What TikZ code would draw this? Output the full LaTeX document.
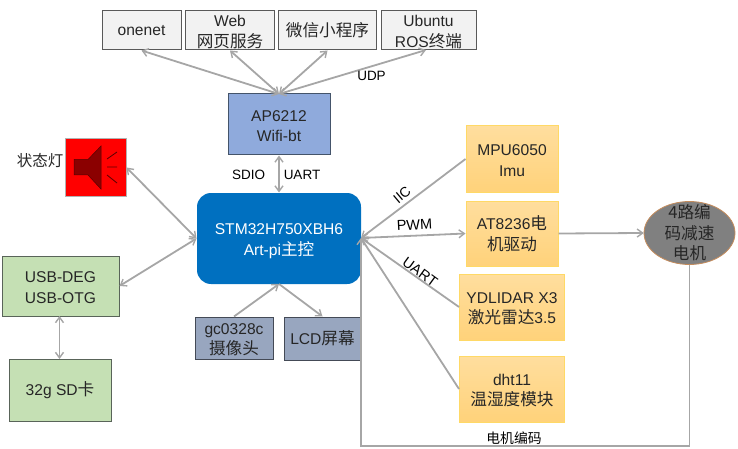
\documentclass[tikz,border=0pt]{standalone}
\usepackage{fontspec}
\setmainfont{Liberation Sans}
\newfontfamily\cjk{Noto Sans CJK SC}[Scale=1.065]
\newfontfamily\cjkplain{Noto Sans CJK SC}
\newcommand{\dn}[1]{\rule{0pt}{#1pt}}
\usetikzlibrary{arrows.meta}
\definecolor{linegray}{HTML}{A6A6A6}
\definecolor{txt}{HTML}{262626}
\definecolor{wififill}{HTML}{8FAADC}
\definecolor{wifiline}{HTML}{44546A}
\definecolor{camfill}{HTML}{98A6BF}
\definecolor{camline}{HTML}{444A56}
\definecolor{storefill}{HTML}{C5E0B4}
\definecolor{storeline}{HTML}{596459}
\definecolor{sensline}{HTML}{FFD966}
\definecolor{senstop}{HTML}{FFDE9E}
\definecolor{sensbot}{HTML}{FFD27A}
\definecolor{mcufill}{HTML}{0070C0}
\definecolor{motline}{HTML}{C58C5C}
\definecolor{darkred}{HTML}{8B0000}
\definecolor{darkerred}{HTML}{5A0000}
\tikzset{
  x=1pt,y=-1pt,
  base/.style={draw,line width=1pt,inner sep=0pt,align=center,
    font=\fontsize{15.6}{20.5}\selectfont,text=txt},
  cloud box/.style={base,fill=black!5,draw=black!65},
  wifi box/.style={base,fill=wififill,draw=wifiline},
  cam box/.style={base,fill=camfill,draw=camline},
  store box/.style={base,fill=storefill,draw=storeline},
  sensor box/.style={base,draw=sensline,top color=senstop,bottom color=sensbot},
  mcu box/.style={base,rounded corners=14pt,draw=none,fill=mcufill,text=white},
  link/.style={draw=linegray,line width=1.8pt},
  tip/.style={{Straight Barb[length=5.5pt,width=8pt,line width=1.4pt]}-{Straight Barb[length=5.5pt,width=8pt,line width=1.4pt]}},
  endtip/.style={-{Straight Barb[length=5.5pt,width=8pt,line width=1.4pt]}},
  starttip/.style={{Straight Barb[length=5.5pt,width=8pt,line width=1.4pt]}-},
  lab/.style={inner sep=0pt,font=\fontsize{13.5}{15}\selectfont,text=black},
}
\begin{document}
\begin{tikzpicture}
\useasboundingbox (0,0) rectangle (738,449);
\node[cloud box,minimum width=79pt,minimum height=39pt] (one) at (141.5,30.5) {onenet};
\node[cloud box,minimum width=88.5pt,minimum height=39pt] (web) at (230,30.5) {\dn{14}Web\\{\cjk 网页服务}};
\node[cloud box,minimum width=98pt,minimum height=39pt] (wx) at (327.5,30.5) {{\cjk 微信小程序}};
\node[cloud box,minimum width=95pt,minimum height=39pt] (ub) at (428.5,30.5) {\dn{14}Ubuntu\\ROS{\cjk 终端}};
\node[wifi box,minimum width=102pt,minimum height=61pt] (ap) at (279,124.5) {\dn{14}AP6212\\Wifi-bt};
\node[base,fill=red,draw=black!30,minimum width=61pt,minimum height=57pt] (lamp) at (95.5,167.5) {};
\node[mcu box,minimum width=164pt,minimum height=91pt] (mcu) at (279,238.5) {\dn{16}STM32H750XBH6\\Art-pi{\cjk 主控}};
\node[store box,minimum width=117pt,minimum height=60pt] (usb) at (60.5,286) {\dn{14}USB-DEG\\USB-OTG};
\node[store box,minimum width=102pt,minimum height=62pt] (sd) at (60,390) {32g SD{\cjk 卡}};
\node[cam box,minimum width=78pt,minimum height=42pt] (cam) at (234,338) {\dn{14}gc0328c\\{\cjk 摄像头}};
\node[cam box,minimum width=77pt,minimum height=43pt] (lcd) at (322.5,338.5) {LCD{\cjk 屏幕}};
\node[sensor box,minimum width=92pt,minimum height=66pt] (mpu) at (512,159) {\dn{14}MPU6050\\Imu};
\node[sensor box,minimum width=92pt,minimum height=65pt] (at) at (512,233.5) {AT8236{\cjk 电}\\{\cjk 机驱动}};
\node[sensor box,minimum width=105pt,minimum height=66pt] (yd) at (512,307) {\dn{14}YDLIDAR X3\\{\cjk 激光雷达}3.5};
\node[sensor box,minimum width=105pt,minimum height=66pt] (dht) at (512,389) {\dn{14}dht11\\{\cjk 温湿度模块}};
\fill[black!50,draw=motline,line width=0.8pt] (689.5,233) ellipse [x radius=45.5,y radius=31.5];
\node[inner sep=0pt,minimum width=91pt,minimum height=63pt,align=center,font=\fontsize{15.6}{20.5}\selectfont,text=txt] (mot) at (689.5,233) {{\cjk 4路编}\\{\cjk 码减速}\\{\cjk 电机}};
% speaker
\fill[darkred,draw=darkerred,line width=0.5pt] (74,159.5) -- (88,159.5) -- (101,146) -- (101,189) -- (88,175) -- (74,175) -- cycle;
\draw[darkerred,line width=0.8pt] (107,159) -- (117,152) (107,167) -- (117,167) (107,175) -- (117,183);
% connectors
\coordinate (apin) at (279,94);
\coordinate (ubs) at (426,50);
\draw[link,tip] (apin) -- (one.south);
\draw[link,tip] (apin) -- (web.south);
\draw[link,tip] (apin) -- (wx.south);
\draw[link,tip] (apin) -- (ubs);
\draw[link,tip,line width=1.4pt] (ap.south) -- (mcu.north);
\draw[link,tip] (mcu.west) -- (lamp.east);
\draw[link,tip] (mcu.west) -- (usb.east);
\coordinate (usbs) at (59.5,316);
\coordinate (sdn) at (59.5,359);
\draw[link,tip,line width=1.4pt] (usbs) -- (sdn);
\coordinate (msouth) at (279,284);
\draw[link,endtip] (cam.north) -- (msouth);
\draw[link,endtip] (msouth) -- (lcd.north);
\coordinate (meast) at (361,238);
\draw[link,starttip] (meast) -- (mpu.west);
\draw[link,tip] (meast) -- (at.west);
\draw[link,starttip] (meast) -- (yd.west);
\draw[link,starttip] (meast) -- (dht.west);
\draw[link,endtip] (at.east) -- (mot.west);
\draw[link,endtip] (mot.south) -- (689.5,446) -- (361,446) -- (meast);
% labels
\node[lab] (l1) at (248.5,175) {SDIO};
\node[lab] (l2) at (302,175) {UART};
\node[lab] (l3) at (371.5,76) {UDP};
\node[lab,rotate=40,font=\fontsize{14}{15}\selectfont] (l4) at (402,195) {IIC};
\node[lab,rotate=3,font=\fontsize{14.5}{15}\selectfont] (l5) at (414.5,225) {PWM};
\node[lab,rotate=-36,font=\fontsize{14.5}{15}\selectfont] (l6) at (420,272) {UART};
\node[lab,font=\fontsize{13.8}{15}\cjkplain] (l7) at (514,438) {电机编码};
\node[lab,font=\fontsize{15.5}{18}\cjkplain,text=txt] (l8) at (40,161) {状态灯};
\end{tikzpicture}
\end{document}
